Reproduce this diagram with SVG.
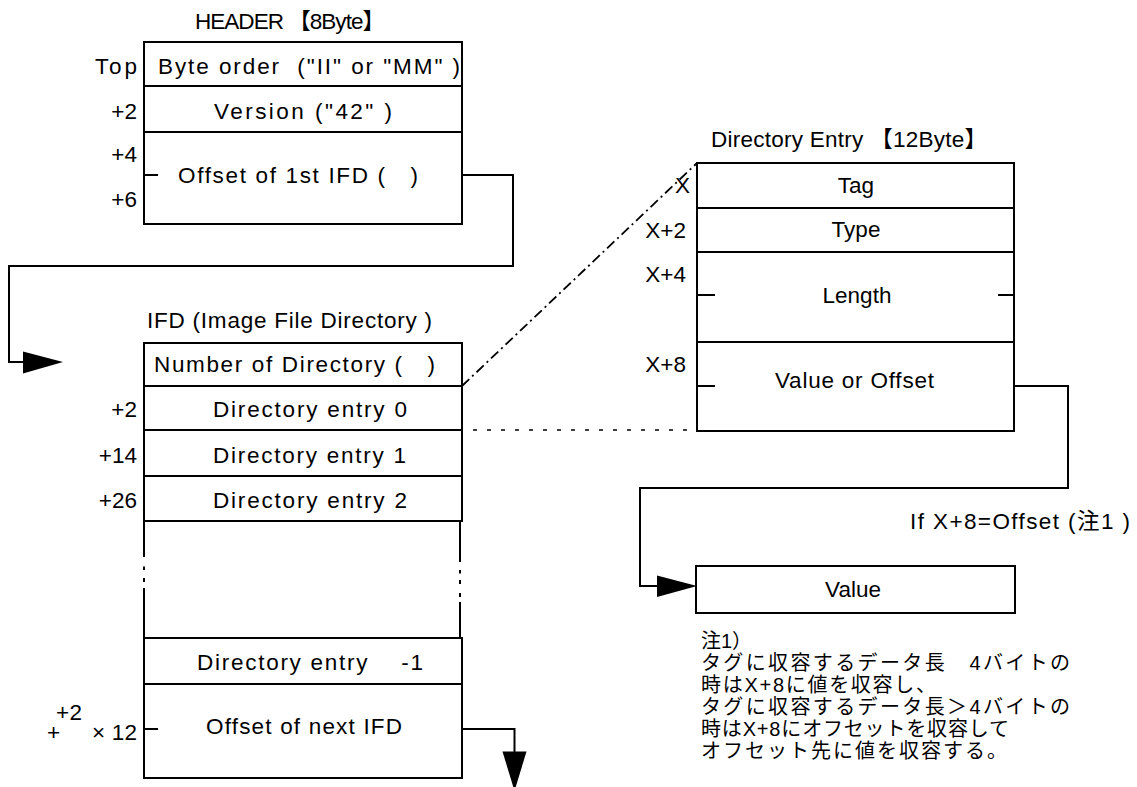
<svg xmlns="http://www.w3.org/2000/svg" width="1137" height="787" viewBox="0 0 1137 787">
  <style>
    text { font-family: "Liberation Sans", "Noto Sans CJK JP", sans-serif; font-size: 22.5px; fill: #000; }
    .end { text-anchor: end; }
    .mid { text-anchor: middle; }
    .note { font-size: 20px; }
    .box { fill: #fff; stroke: #000; stroke-width: 2; }
    .ln { fill: none; stroke: #000; stroke-width: 2; }
    .dashdot { fill: none; stroke: #000; stroke-width: 1.8; stroke-dasharray: 10 4 2 4; }
    .dotted { fill: none; stroke: #000; stroke-width: 1.6; stroke-dasharray: 4 10; }
    .head { fill: #000; stroke: none; }
  </style>

  <!-- connectors -->
  <g id="connectors">
    <!-- header offset -> IFD -->
    <polyline class="ln" points="442,175 513,175 513,266 9,266 9,362 30,362"/>
    <polygon class="head" points="23,351.5 63,362 23,373.5"/>
    <!-- next IFD -->
    <polyline class="ln" points="442,729 514.5,729 514.5,760"/>
    <polygon class="head" points="502.5,751.5 514.5,791 526.5,751.5"/>
    <!-- value or offset -> value -->
    <polyline class="ln" points="998,386 1068,386 1068,488 640,488 640,586 665,586"/>
    <polygon class="head" points="657,575.5 697,586 657,597"/>
    <!-- entry expansion guides -->
    <line class="dashdot" x1="462" y1="386" x2="697" y2="163"/>
    <line class="dotted" x1="473" y1="430" x2="695" y2="430"/>
  </g>

  <!-- header -->
  <g id="header">
    <text x="195" y="29" textLength="190">HEADER 【8Byte】</text>
    <rect class="box" x="144" y="42" width="318" height="182"/>
    <line class="ln" x1="144" y1="86" x2="462" y2="86"/>
    <line class="ln" x1="144" y1="132" x2="462" y2="132"/>
    <line class="ln" x1="144" y1="175" x2="158" y2="175"/>
    <text x="95" y="74" textLength="42">Top</text>
    <text x="158" y="74" textLength="302" xml:space="preserve">Byte order  ("II" or "MM" )</text>
    <text class="end" x="137" y="119">+2</text>
    <text x="214" y="119" textLength="178" xml:space="preserve">Version ("42" )</text>
    <text class="end" x="137" y="162">+4</text>
    <text class="end" x="137" y="207">+6</text>
    <text x="178" y="183" textLength="240" xml:space="preserve">Offset of 1st IFD (   )</text>
  </g>

  <!-- IFD -->
  <g id="ifd">
    <text x="147" y="328" textLength="285" xml:space="preserve">IFD (Image File Directory )</text>
    <rect class="box" x="144" y="343" width="318" height="178"/>
    <line class="ln" x1="144" y1="386" x2="462" y2="386"/>
    <line class="ln" x1="144" y1="430" x2="462" y2="430"/>
    <line class="ln" x1="144" y1="476" x2="462" y2="476"/>
    <text x="154" y="372" textLength="281" xml:space="preserve">Number of Directory (   )</text>
    <text class="end" x="137" y="417">+2</text>
    <text x="213" y="417" textLength="194">Directory entry 0</text>
    <text class="end" x="137" y="463">+14</text>
    <text x="213" y="463" textLength="193">Directory entry 1</text>
    <text class="end" x="137" y="508">+26</text>
    <text x="213" y="508" textLength="194">Directory entry 2</text>
    <!-- omitted entries -->
    <path class="ln" d="M144,521 V557 M144,566.5 V570 M144,578 V582 M144,588 V638"/>
    <path class="ln" d="M460,521 V562 M460,570 V573.5 M460,580 V584 M460,593 V597 M460,602 V638"/>
    <rect class="box" x="144" y="638" width="318" height="140"/>
    <line class="ln" x1="144" y1="684" x2="462" y2="684"/>
    <line class="ln" x1="144" y1="729" x2="158" y2="729"/>
    <text x="197" y="670" textLength="226" xml:space="preserve">Directory entry    -1</text>
    <text x="206" y="734" textLength="196">Offset of next IFD</text>
    <text x="56" y="720" textLength="26">+2</text>
    <text x="47" y="740">+</text>
    <text x="92" y="740" textLength="45">× 12</text>
  </g>

  <!-- directory entry -->
  <g id="entry">
    <text x="711" y="147" textLength="276">Directory Entry 【12Byte】</text>
    <rect class="box" x="697" y="163" width="317" height="268"/>
    <line class="ln" x1="697" y1="208" x2="1014" y2="208"/>
    <line class="ln" x1="697" y1="252" x2="1014" y2="252"/>
    <line class="ln" x1="697" y1="342" x2="1014" y2="342"/>
    <line class="ln" x1="697" y1="295" x2="715" y2="295"/>
    <line class="ln" x1="998" y1="295" x2="1014" y2="295"/>
    <line class="ln" x1="697" y1="386" x2="715" y2="386"/>
    <text class="end" x="690" y="193">X</text>
    <text class="end" x="686" y="238">X+2</text>
    <text class="end" x="686" y="282">X+4</text>
    <text class="end" x="686" y="372">X+8</text>
    <text class="mid" x="856" y="193">Tag</text>
    <text class="mid" x="856" y="237">Type</text>
    <text class="mid" x="857" y="303">Length</text>
    <text x="775" y="388" textLength="159">Value or Offset</text>
  </g>

  <!-- value -->
  <g id="value">
    <text x="910" y="529" textLength="220" xml:space="preserve">If X+8=Offset (注1 )</text>
    <rect class="box" x="696" y="566" width="319" height="47"/>
    <text class="mid" x="853" y="597">Value</text>
  </g>

  <!-- note -->
  <g id="note">
    <text class="note" x="701" y="648">注1）</text>
    <text class="note" x="701" y="670" textLength="369">タグに収容するデータ長　4バイトの</text>
    <text class="note" x="701" y="692" textLength="235">時はX+8に値を収容し、</text>
    <text class="note" x="701" y="714" textLength="369">タグに収容するデータ長＞4バイトの</text>
    <text class="note" x="701" y="736" textLength="308">時はX+8にオフセットを収容して</text>
    <text class="note" x="701" y="758" textLength="306">オフセット先に値を収容する。</text>
  </g>
</svg>
